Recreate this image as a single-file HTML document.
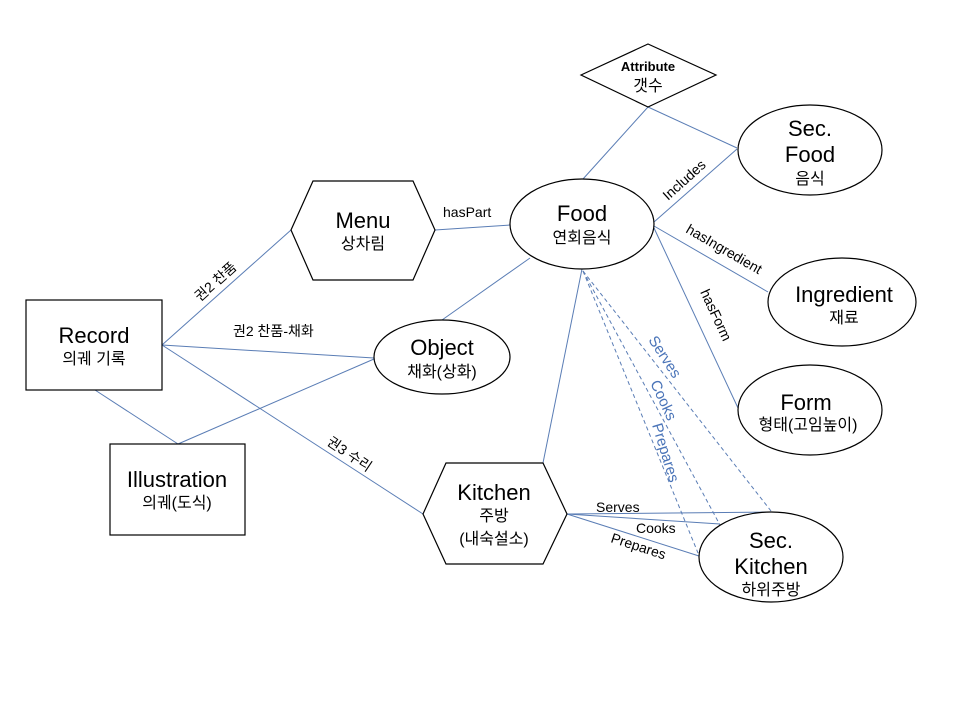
<!DOCTYPE html>
<html><head><meta charset="utf-8"><style>
html,body{margin:0;padding:0;background:#fff;}
svg{display:block;}
text{font-family:"Liberation Sans","Noto Sans CJK KR",sans-serif;fill:#000;}
.b{font-size:22px;}
.s{font-size:16px;}
.l{font-size:14px;}
.bl{fill:#4a74b8;font-size:15px;}
</style></head><body>
<svg width="960" height="720" viewBox="0 0 960 720" xmlns="http://www.w3.org/2000/svg">
<g stroke="#5a7db5" stroke-width="1" fill="none">
<line x1="648" y1="107" x2="583" y2="179"/>
<line x1="648" y1="107" x2="737" y2="148"/>
<line x1="654" y1="222" x2="737" y2="149"/>
<line x1="654" y1="226" x2="768" y2="292"/>
<line x1="654" y1="228" x2="738" y2="408"/>
<line x1="530" y1="258" x2="442" y2="320"/>
<line x1="582" y1="269" x2="543" y2="463"/>
<line x1="435" y1="230" x2="510" y2="225"/>
<line x1="162" y1="345" x2="291" y2="230"/>
<line x1="162" y1="345" x2="374" y2="358"/>
<line x1="162" y1="345" x2="423" y2="514"/>
<line x1="95" y1="390" x2="178" y2="444"/>
<line x1="178" y1="444" x2="374" y2="359"/>
<line x1="567" y1="514" x2="770" y2="512"/>
<line x1="567" y1="514" x2="720" y2="524"/>
<line x1="567" y1="514" x2="699" y2="556"/>
<g stroke-dasharray="4,3">
<line x1="583" y1="271" x2="771" y2="511"/>
<line x1="583" y1="271" x2="720" y2="525"/>
<line x1="583" y1="271" x2="698" y2="553"/>
</g>
</g>
<g stroke="#000" stroke-width="1.2" fill="#fff">
<polygon points="581,75 648,44 716,75 648,107"/>
<ellipse cx="810" cy="150" rx="72" ry="45"/>
<ellipse cx="582" cy="224" rx="72" ry="45"/>
<ellipse cx="842" cy="302" rx="74" ry="44"/>
<ellipse cx="810" cy="410" rx="72" ry="45"/>
<ellipse cx="771" cy="557" rx="72" ry="45"/>
<ellipse cx="442" cy="357" rx="68" ry="37"/>
<polygon points="291,230 313,181 413,181 435,230 413,280 313,280"/>
<polygon points="423,514 446,463 543,463 567,514 543,564 446,564"/>
<rect x="26" y="300" width="136" height="90"/>
<rect x="110" y="444" width="135" height="91"/>
</g>
<g text-anchor="middle">
<text x="648" y="71" style="font-size:13px;font-weight:bold">Attribute</text>
<text x="648" y="91" class="s">갯수</text>
<text x="810" y="136" class="b">Sec.</text>
<text x="810" y="162" class="b">Food</text>
<text x="810" y="184" class="s">음식</text>
<text x="582" y="221" class="b">Food</text>
<text x="582" y="243" class="s">연회음식</text>
<text x="844" y="302" class="b">Ingredient</text>
<text x="844" y="323" class="s">재료</text>
<text x="806" y="410" class="b">Form</text>
<text x="808" y="430" class="s">형태(고임높이)</text>
<text x="771" y="548" class="b">Sec.</text>
<text x="771" y="574" class="b">Kitchen</text>
<text x="771" y="595" class="s">하위주방</text>
<text x="442" y="355" class="b">Object</text>
<text x="442" y="377" class="s">채화(상화)</text>
<text x="363" y="228" class="b">Menu</text>
<text x="363" y="249" class="s">상차림</text>
<text x="494" y="500" class="b">Kitchen</text>
<text x="494" y="521" class="s">주방</text>
<text x="494" y="544" class="s">(내숙설소)</text>
<text x="94" y="343" class="b">Record</text>
<text x="94" y="364" class="s">의궤 기록</text>
<text x="177" y="487" class="b">Illustration</text>
<text x="177" y="508" class="s">의궤(도식)</text>
</g>
<text x="443" y="217" class="l">hasPart</text>
<text x="233" y="336" class="l">권2 찬품-채화</text>
<text x="596" y="512" class="l">Serves</text>
<text x="636" y="533" class="l">Cooks</text>
<text class="l" transform="translate(610,542) rotate(18)">Prepares</text>
<text class="l" transform="translate(200,302) rotate(-42)">권2 찬품</text>
<text class="l" transform="translate(326,444) rotate(34)">권3 수리</text>
<text class="l" transform="translate(668,201) rotate(-42)">Includes</text>
<text class="l" transform="translate(685,232) rotate(30)">hasIngredient</text>
<text class="l" transform="translate(700,292) rotate(65)">hasForm</text>
<text class="bl" transform="translate(648,340) rotate(57)">Serves</text>
<text class="bl" transform="translate(650,383) rotate(65)">Cooks</text>
<text class="bl" transform="translate(652,425) rotate(73)">Prepares</text>
</svg>
</body></html>
